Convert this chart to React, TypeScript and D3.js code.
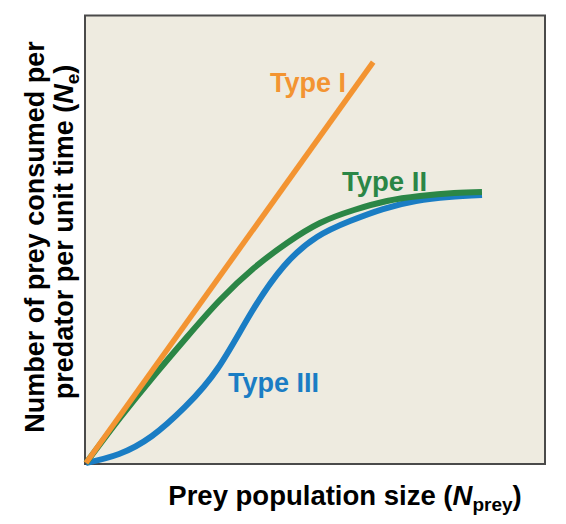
import React from "react";
import * as d3 from "d3";

// Prey population (x) and prey eaten per predator per unit time (y), both in relative units 0–100
const typeIX = [0, 62.7];
const typeIY = [0, 89.7];

const typeIIX = [0, 7.42, 14.63, 22.05, 29.26, 36.68, 43.89, 51.09, 58.52, 65.72, 72.93, 80.35, 86.46];
const typeIIY = [0, 10.07, 19.24, 28.19, 36.47, 43.62, 49.22, 53.69, 56.6, 58.61, 59.73, 60.4, 60.63];

const typeIIIX = [0, 7.21, 14.41, 21.62, 28.82, 36.03, 43.23, 50.44, 57.64, 64.85, 72.05, 79.26, 86.46];
const typeIIIY = [0, 2.01, 6.04, 12.53, 21.25, 33.56, 44.07, 50.56, 54.14, 56.82, 58.61, 59.51, 59.96];

const seriesNames = ["Type I", "Type II", "Type III"];
const seriesColors = ["#F39432", "#2B8646", "#1A7DC4"];

const W = 566;
const H = 524;
const FONT = "'Liberation Sans', Arial, Helvetica, sans-serif";

export default function App() {
  const x = d3.scaleLinear().domain([0, 100]).range([86, 544]);
  const y = d3.scaleLinear().domain([0, 100]).range([463, 16]);

  const line = d3
    .line<[number, number]>()
    .x((d) => x(d[0]))
    .y((d) => y(d[1]))
    .curve(d3.curveNatural);

  const zip = (xs: number[], ys: number[]) => xs.map((v, i) => [v, ys[i]] as [number, number]);

  const frameX = x(0) - 1;
  const frameY = y(100) - 0.5;
  const frameW = x(100) - x(0) + 2;
  const frameH = y(0) - y(100) + 1.5;

  return (
    <svg width={W} height={H} style={{ position: "absolute", left: 0, top: 0 }} fontFamily={FONT}>
      <rect x={0} y={0} width={W} height={H} fill="#ffffff" />
      <rect x={frameX} y={frameY} width={frameW} height={frameH} fill="#EEEBE0" stroke="#4a4a4a" strokeWidth={2} />

      <path d={line(zip(typeIIIX, typeIIIY)) || ""} fill="none" stroke={seriesColors[2]} strokeWidth={6} strokeLinecap="butt" />
      <path d={line(zip(typeIIX, typeIIY)) || ""} fill="none" stroke={seriesColors[1]} strokeWidth={6} strokeLinecap="butt" />
      <path d={line(zip(typeIX, typeIY)) || ""} fill="none" stroke={seriesColors[0]} strokeWidth={5.5} strokeLinecap="butt" />

      <text x={270} y={92} fontSize={27} fontWeight="bold" fill={seriesColors[0]}>{seriesNames[0]}</text>
      <text x={342} y={191} fontSize={27.5} fontWeight="bold" fill={seriesColors[1]}>{seriesNames[1]}</text>
      <text x={228} y={392} fontSize={27} fontWeight="bold" fill={seriesColors[2]}>{seriesNames[2]}</text>

      <text x={345} y={505} fontSize={27.5} fontWeight="bold" fill="#000" textAnchor="middle">
        Prey population size (<tspan fontStyle="italic">N</tspan>
        <tspan fontSize={19} dy={6}>prey</tspan>
        <tspan dy={-6}>)</tspan>
      </text>

      <g transform="translate(44,237) rotate(-90)">
        <text x={0} y={0} fontSize={27} fontWeight="bold" fill="#000" textAnchor="middle">
          Number of prey consumed per
        </text>
      </g>
      <g transform="translate(73,232) rotate(-90)">
        <text x={0} y={0} fontSize={27} fontWeight="bold" fill="#000" textAnchor="middle">
          predator per unit time (<tspan fontStyle="italic">N</tspan>
          <tspan fontSize={19} dy={6}>e</tspan>
          <tspan dy={-6}>)</tspan>
        </text>
      </g>
    </svg>
  );
}
